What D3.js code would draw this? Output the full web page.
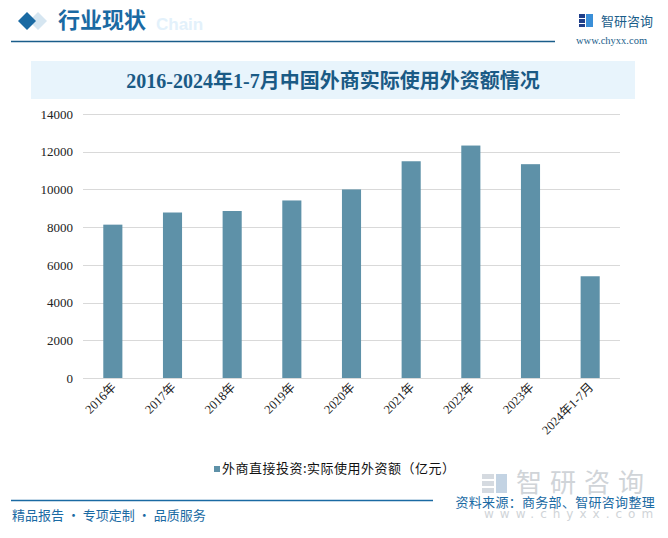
<!DOCTYPE html>
<html><head><meta charset="utf-8">
<script src="https://cdn.jsdelivr.net/npm/d3@7/dist/d3.min.js"></script>
<style>
html,body{margin:0;padding:0;background:#fff;}
svg{display:block;}
</style></head>
<body>
<svg id="chart" width="668" height="538"></svg>
<script>
const categories = ["2016年","2017年","2018年","2019年","2020年","2021年","2022年","2023年","2024年1-7月"];
const values = [8132, 8776, 8856, 9415, 10000, 11494, 12327, 11339, 5395];
const yTicks = [0, 2000, 4000, 6000, 8000, 10000, 12000, 14000];
const seriesName = "外商直接投资:实际使用外资额（亿元）";
const chartTitle = "2016-2024年1-7月中国外商实际使用外资额情况";

const svg = d3.select("#chart");
const cjk = "'Noto Sans CJK SC', 'Noto Sans', sans-serif";
const serif = "'Liberation Serif', 'Noto Sans CJK SC', serif";

// Header
svg.append("text").attr("x", 156).attr("y", 30).text("Chain")
  .attr("font-family", "Arial, 'Liberation Sans', sans-serif").attr("font-weight", "bold")
  .attr("font-size", 17).attr("fill", "#e3f1fb");
svg.append("path").attr("d", "M38,12 L47,21 L38,30 L29,21 Z").attr("fill", "#d6e6f1");
svg.append("path").attr("d", "M27,12 L36,21 L27,30 L18,21 Z").attr("fill", "#1a6aa3");
svg.append("text").attr("x", 58).attr("y", 28).text("行业现状")
  .attr("font-family", cjk).attr("font-weight", "bold").attr("font-size", 22).attr("fill", "#1a6aa3");
svg.append("line").attr("x1", 11).attr("x2", 555).attr("y1", 41.5).attr("y2", 41.5)
  .attr("stroke", "#1a5d8a").attr("stroke-width", 1.5);
// logo
const logo = svg.append("g").attr("transform", "translate(579,14)");
logo.append("rect").attr("x", 0).attr("y", 0).attr("width", 6).attr("height", 4).attr("fill", "#1f3f8a");
logo.append("rect").attr("x", 0).attr("y", 5).attr("width", 6).attr("height", 4).attr("fill", "#1f3f8a");
logo.append("rect").attr("x", 0).attr("y", 10).attr("width", 6).attr("height", 3).attr("fill", "#1f3f8a");
logo.append("rect").attr("x", 7).attr("y", 0).attr("width", 7).attr("height", 13).attr("fill", "#3a8fd8");
svg.append("text").attr("x", 601).attr("y", 26).text("智研咨询")
  .attr("font-family", cjk).attr("font-size", 13).attr("fill", "#1a5d8a");
svg.append("text").attr("x", 576).attr("y", 44).text("www.chyxx.com")
  .attr("font-family", serif).attr("font-size", 10.5).attr("fill", "#1a5d8a");

// Title box
svg.append("rect").attr("x", 31).attr("y", 61).attr("width", 604).attr("height", 38).attr("fill", "#e8f4fc");
svg.append("text").attr("x", 333).attr("y", 88).attr("text-anchor", "middle").text(chartTitle)
  .attr("font-family", serif).attr("font-weight", "bold").attr("font-size", 20).attr("fill", "#1a5a85");

// Plot
const x = d3.scaleBand().domain(categories).range([83, 620]).paddingInner(0.68).paddingOuter(0.34);
const y = d3.scaleLinear().domain([0, 14000]).range([378, 114]);

const grid = svg.append("g");
grid.selectAll("line").data(yTicks).join("line")
  .attr("x1", 83).attr("x2", 620).attr("y1", d => Math.round(y(d)) + 0.5).attr("y2", d => Math.round(y(d)) + 0.5)
  .attr("stroke", "#d9d9d9").attr("stroke-width", 1);

const yAxis = svg.append("g").attr("transform", "translate(73,0)")
  .call(d3.axisLeft(y).tickValues(yTicks).tickSize(0).tickPadding(0).tickFormat(d3.format("d")));
yAxis.select(".domain").remove();
yAxis.selectAll("text").attr("font-family", serif).attr("font-size", 13).attr("fill", "#222");

svg.append("g").selectAll("rect").data(values).join("rect")
  .attr("x", (d, i) => x(categories[i]))
  .attr("width", x.bandwidth())
  .attr("y", d => y(d))
  .attr("height", d => y(0) - y(d))
  .attr("fill", "#5e91a8");

const xAxis = svg.append("g").attr("transform", "translate(0,378)")
  .call(d3.axisBottom(x).tickSize(0).tickPadding(0));
xAxis.select(".domain").remove();
xAxis.selectAll("text")
  .attr("font-family", serif).attr("font-size", 12.5).attr("fill", "#222")
  .attr("text-anchor", "end").attr("dy", 0)
  .attr("transform", "translate(4,10) rotate(-45)");

// Legend
svg.append("rect").attr("x", 214).attr("y", 466).attr("width", 6).attr("height", 6).attr("fill", "#5e91a8");
svg.append("text").attr("x", 222).attr("y", 473).text(seriesName)
  .attr("font-family", cjk).attr("font-size", 13).attr("letter-spacing", 0.5).attr("fill", "#111");

// watermark logo
const wm = svg.append("g").attr("transform", "translate(482,474)");
wm.append("rect").attr("x", 0).attr("y", 0).attr("width", 12).attr("height", 5).attr("fill", "#d5dae0");
wm.append("rect").attr("x", 0).attr("y", 7).attr("width", 12).attr("height", 5).attr("fill", "#d5dae0");
wm.append("rect").attr("x", 0).attr("y", 14).attr("width", 12).attr("height", 5).attr("fill", "#d5dae0");
wm.append("rect").attr("x", 14).attr("y", 0).attr("width", 11).attr("height", 19).attr("fill", "#c3d3e3");
svg.append("text").attr("x", 516).attr("y", 492).text("智研咨询")
  .attr("font-family", cjk).attr("font-size", 26).attr("fill", "#d0d4d8").attr("letter-spacing", 8);
svg.append("text").attr("x", 484).attr("y", 518).text("www.chyxx.com")
  .attr("font-family", "'DejaVu Sans', sans-serif").attr("font-size", 12).attr("fill", "#d0d4d8").attr("letter-spacing", 6);

// Footer
svg.append("line").attr("x1", 11).attr("x2", 433).attr("y1", 500.5).attr("y2", 500.5)
  .attr("stroke", "#1a6aa3").attr("stroke-width", 1.5);
svg.append("text").attr("x", 12).attr("y", 520).text("精品报告 · 专项定制 · 品质服务")
  .attr("font-family", cjk).attr("font-size", 13).attr("fill", "#1a6aa3");
svg.append("text").attr("x", 655).attr("y", 507).attr("text-anchor", "end").text("资料来源：商务部、智研咨询整理")
  .attr("font-family", cjk).attr("font-size", 13).attr("letter-spacing", 0.3).attr("fill", "#1a6aa3");
</script>
</body></html>
